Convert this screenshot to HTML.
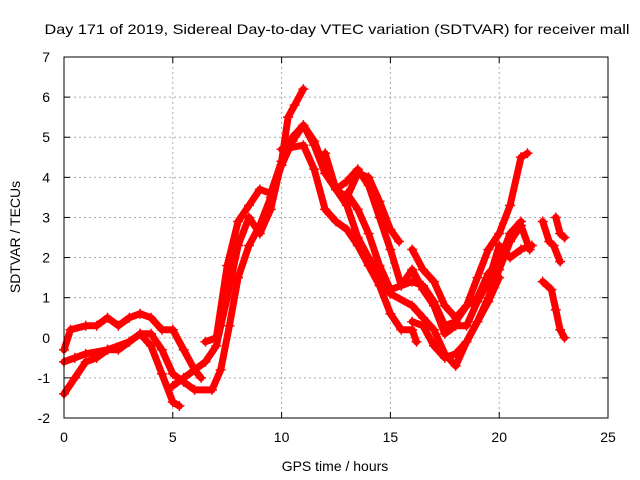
<!DOCTYPE html>
<html><head><meta charset="utf-8"><style>
body{margin:0;background:#fff}
svg{display:block;font-family:"Liberation Sans",sans-serif}
</style></head><body>
<svg id="chart" width="640" height="480" viewBox="0 0 640 480">
<text x="337" y="34" text-anchor="middle" font-size="14" textLength="585" lengthAdjust="spacingAndGlyphs">Day 171 of 2019, Sidereal Day-to-day VTEC variation (SDTVAR) for receiver mall</text>
<text x="335" y="471" text-anchor="middle" font-size="14">GPS time / hours</text>
<text transform="translate(20,237) rotate(-90)" text-anchor="middle" font-size="14">SDTVAR / TECUs</text>
<g id="grid"></g><g id="ticks"></g><g id="series"></g>
<rect x="64" y="57" width="544" height="361" fill="none" stroke="#000" stroke-width="1"/>
</svg>
<script>
const xTicks=[0,5,10,15,20,25];
const yTicks=[-2,-1,0,1,2,3,4,5,6,7];
const track1=[[0,-0.3],[0.3,0.2],[1,0.3],[1.5,0.3],[2,0.5],[2.5,0.3],[3,0.5],[3.5,0.6],[4,0.5],[4.5,0.2],[5,0.2],[5.5,-0.3],[6,-0.8],[6.3,-1.0]];
const track2=[[0,-1.4],[0.5,-1.0],[1,-0.6],[1.5,-0.5],[2,-0.3],[2.5,-0.3],[3,-0.1],[3.5,0.1],[4,-0.2],[4.5,-0.9],[5,-1.6],[5.3,-1.7]];
const track3=[[0,-0.6],[0.5,-0.5],[1,-0.4],[2,-0.3],[3,-0.1],[3.5,0.1],[4,0.1],[4.5,-0.3],[5,-0.9],[5.5,-1.1],[6,-1.3],[6.8,-1.3],[7.2,-0.8],[7.6,0.3],[8,1.5],[8.5,2.3],[9,2.8],[9.5,3.5],[10,4.3],[10.5,4.9],[11,5.3],[11.5,4.9],[12,4.2],[12.5,3.7],[13,3.5],[13.5,4.1],[14,4.0],[14.5,3.4],[15,2.7],[15.4,2.4]];
const track4=[[5,-1.2],[5.5,-1.0],[6,-0.8],[6.5,-0.6],[7,-0.2],[7.5,1.0],[8,2.3],[8.5,3.0],[9,2.6],[9.5,3.2],[10,4.4],[10.5,5.0],[11,5.3],[11.5,4.8],[12,4.1],[12.5,3.7],[13,3.9],[13.5,4.2],[14,3.8],[14.5,3.0],[15,2.2],[15.5,1.3],[16,1.4],[16.5,1.3],[17,0.9],[17.5,0.3],[18,0.4],[18.5,0.8],[19,1.5],[19.5,2.2],[20,2.6],[20.5,3.3],[21,4.5],[21.3,4.6]];
const track5=[[6.5,-0.1],[7,0],[7.5,1.8],[8,2.9],[8.5,3.3],[9,3.7],[9.5,3.6],[10,4.4],[10.3,5.5],[10.6,5.8],[11,6.2]];
const track6=[[10,4.7],[11,4.8],[11.5,4.2],[12,3.2],[12.5,2.9],[13,2.7],[13.5,2.3],[14,1.8],[14.5,1.3],[15,0.6],[15.5,0.2],[16,0.2],[16.2,-0.1]];
const track7=[[12,4.6],[12.5,3.7],[13,3.3],[13.5,2.5],[14,2.0],[14.5,1.5],[15,1.1],[16,0.8],[16.5,0.5],[17,0.2],[17.5,-0.4],[18,-0.7],[18.5,-0.1],[19,0.4],[19.5,1.0],[20,1.7],[20.5,2.4],[21,2.8],[21.4,2.2]];
const track8=[[13,3.6],[13.5,3.2],[14,2.6],[14.5,1.8],[15,1.2],[15.5,1.3],[16,1.7],[16.5,1.2],[17,0.8],[17.5,0.1],[18,0.3],[18.5,0.3],[19,0.9],[19.5,1.4],[20,2.3],[20.5,2.0],[21,2.2],[21.5,2.3]];
const track9=[[16,2.2],[16.5,1.7],[17,1.4],[17.5,0.8],[18,0.5],[18.5,0.8],[19,1.0],[19.5,1.6],[20,1.9],[20.5,2.6],[21,2.9]];
const track10=[[16,0.4],[16.5,0.3],[17,-0.2],[17.5,-0.5],[18,-0.4],[18.5,-0.1],[19,0.4],[19.5,0.9],[20,1.5]];
const track11=[[22,2.9],[22.3,2.4],[22.5,2.3],[22.8,1.9]];
const track12=[[22,1.4],[22.4,1.2],[22.6,0.7],[22.8,0.2],[23,0]];
const track13=[[22.6,3.0],[22.8,2.6],[23,2.5]];
const tracks=[track1,track2,track3,track4,track5,track6,track7,track8,track9,track10,track11,track12,track13];

const X0=64,X1=608,Y0=418,Y1=57;
const xs=v=>X0+(v-0)/(25-0)*(X1-X0);
const ys=v=>Y0-(v-(-2))/(7-(-2))*(Y0-Y1);
const NS='http://www.w3.org/2000/svg';
const grid=document.getElementById('grid'),ticks=document.getElementById('ticks'),ser=document.getElementById('series');
function mk(tag,at,parent){const e=document.createElementNS(NS,tag);for(const k in at)e.setAttribute(k,at[k]);parent.appendChild(e);return e;}
xTicks.forEach(t=>{
  const x=xs(t);
  if(t>0&&t<25){const g=mk('line',{x1:x,x2:x,y1:Y1,y2:Y0,stroke:'#aaa','stroke-dasharray':'2,3'},grid);
  
  }
  mk('line',{x1:x,x2:x,y1:Y0,y2:Y0-6,stroke:'#000'},ticks);
  mk('line',{x1:x,x2:x,y1:Y1,y2:Y1+6,stroke:'#000'},ticks);
  const l=mk('text',{x:x,y:Y0+24,'text-anchor':'middle','font-size':'14'},ticks);l.textContent=t;
  
  
});
yTicks.forEach(t=>{
  const y=ys(t);
  if(t>-2&&t<7){const g=mk('line',{x1:X0,x2:X1,y1:y,y2:y,stroke:'#aaa','stroke-dasharray':'2,3'},grid);
  
  }
  mk('line',{x1:X0,x2:X0+6,y1:y,y2:y,stroke:'#000'},ticks);
  mk('line',{x1:X1,x2:X1-6,y1:y,y2:y,stroke:'#000'},ticks);
  const l=mk('text',{x:X0-14,y:y+5,'text-anchor':'end','font-size':'14'},ticks);l.textContent=t;
  
  
});
tracks.forEach((tr,i)=>{
  const pts=tr.map(p=>xs(p[0]).toFixed(1)+','+ys(p[1]).toFixed(1)).join(' ');
  const pl=mk('polyline',{points:pts,fill:'none',stroke:'#f00','stroke-width':'7','stroke-linejoin':'round','stroke-linecap':'round'},ser);
  
  
  tr.forEach(p=>{
    const x=xs(p[0]),y=ys(p[1]);
    const m=mk('path',{d:`M${x-5},${y}H${x+5}M${x},${y-5}V${y+5}`,stroke:'#f00','stroke-width':'1.5'},ser);
    
    
  });
});
</script>
</body></html>
